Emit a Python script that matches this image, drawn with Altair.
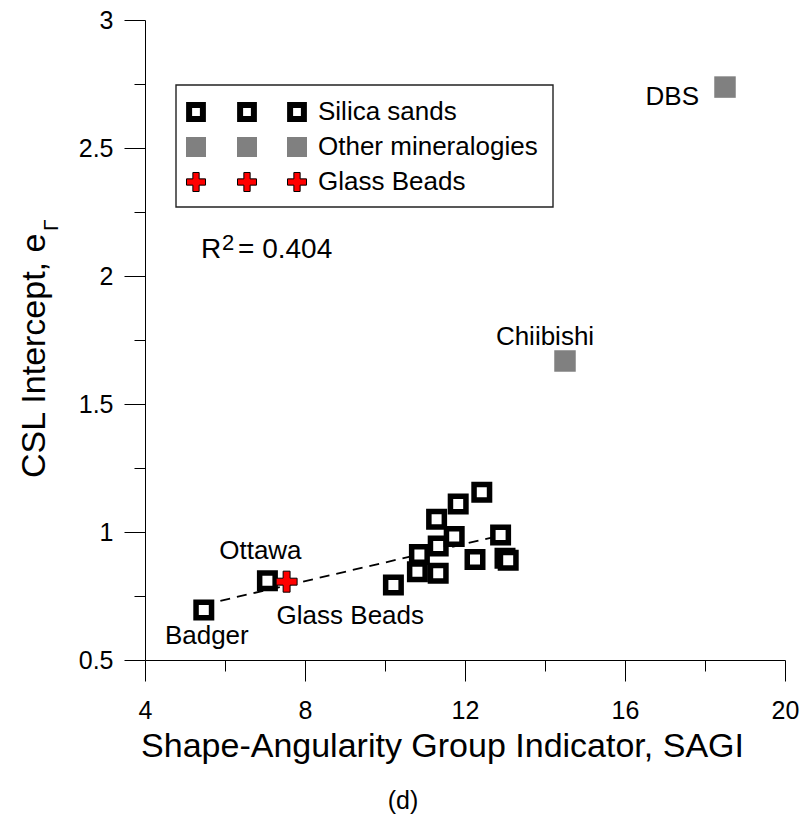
import altair as alt
import pandas as pd

FONT = "Liberation Sans"

# ---------------- data ----------------
silica_x = [5.47, 7.06, 10.21, 10.81, 10.86, 11.33, 11.33, 11.29, 11.73, 11.83, 12.42, 12.25, 12.89, 13.00, 13.08]
silica_y = [0.695, 0.81, 0.793, 0.845, 0.912, 0.839, 0.945, 1.050, 0.982, 1.109, 1.155, 0.893, 0.988, 0.897, 0.890]
other_x = [18.5, 14.5]
other_y = [2.738, 1.668]
beads_x = [7.54]
beads_y = [0.806]
fit_x = [5.47, 13.05]
fit_y = [0.716, 0.992]

x_major = [4, 8, 12, 16, 20]
x_minor = [6, 10, 14, 18]
y_major = [0.5, 1, 1.5, 2, 2.5, 3]
y_minor = [0.75, 1.25, 1.75, 2.25, 2.75]

point_labels = ["DBS", "Chiibishi", "Ottawa", "Glass Beads", "Badger"]
label_x = [18.5, 14.5, 7.06, 7.54, 5.47]
label_y = [2.738, 1.668, 0.81, 0.806, 0.695]

legend_labels = ["Silica sands", "Other mineralogies", "Glass Beads"]
r2_parts = ["R", "2", "= 0.404"]
y_title = ["CSL Intercept, e", "\u0393"]
x_title = "Shape-Angularity Group Indicator, SAGI"
panel_tag = "(d)"

# ---------------- tables ----------------
silica = pd.DataFrame({"x": silica_x, "y": silica_y})
other = pd.DataFrame({"x": other_x, "y": other_y})
beads = pd.DataFrame({"x": beads_x, "y": beads_y})
fit = pd.DataFrame({"x": fit_x, "y": fit_y})

xs = alt.Scale(domain=[4, 20], nice=False, zero=False)
ys = alt.Scale(domain=[0.5, 3], nice=False, zero=False)

CROSS = "M-1,-0.33H-0.33V-1H0.33V-0.33H1V0.33H0.33V1H-0.33V0.33H-1Z"

ax_x_major = alt.Axis(values=x_major, orient="bottom", tickSize=21, labelFontSize=25, labelPadding=17,
                      labelFont=FONT, labelColor="black", grid=False, domainColor="black", tickColor="black",
                      title=x_title, titleFont=FONT, titleFontSize=34, titleFontWeight="normal",
                      titleColor="black", titleX=297, titleY=96, titleAlign="center",
                      titleBaseline="alphabetic", labelFlush=False)
ax_x_minor = alt.Axis(values=x_minor, orient="bottom", tickSize=11, labels=False, domain=False,
                      grid=False, tickColor="black", title=None)
ax_y_major = alt.Axis(values=y_major, orient="left", tickSize=21, labelFontSize=25, labelPadding=11,
                      labelFont=FONT, labelColor="black", grid=False, domainColor="black", tickColor="black",
                      format="~g", title=None, labelFlush=False)
ax_y_minor = alt.Axis(values=y_minor, orient="left", tickSize=11, labels=False, domain=False,
                      grid=False, tickColor="black", title=None)

fit_line = alt.Chart(fit).mark_line(color="black", strokeWidth=1.8, strokeDash=[10, 7]).encode(
    x=alt.X("x:Q", scale=xs, axis=ax_x_major),
    y=alt.Y("y:Q", scale=ys, axis=ax_y_major),
)

other_pts = alt.Chart(other).mark_point(shape="square", filled=True, color="#808080", size=462,
                                        opacity=1, strokeWidth=0).encode(
    x=alt.X("x:Q", scale=xs, axis=ax_x_minor),
    y=alt.Y("y:Q", scale=ys, axis=ax_y_minor),
)

silica_pts = alt.Chart(silica).mark_point(shape="square", filled=True, fill="white", stroke="black",
                                          strokeWidth=5.5, size=240, opacity=1).encode(
    x=alt.X("x:Q", scale=xs, axis=None),
    y=alt.Y("y:Q", scale=ys, axis=None),
)

bead_pts = alt.Chart(beads).mark_point(shape=CROSS, filled=True, fill="#ff0000", stroke="black",
                                       strokeWidth=1, size=441, opacity=1).encode(
    x=alt.X("x:Q", scale=xs, axis=None),
    y=alt.Y("y:Q", scale=ys, axis=None),
)

# point labels
label_style = {
    "DBS": dict(align="right", dx=-26, dy=18),
    "Chiibishi": dict(align="center", dx=-20, dy=-16),
    "Ottawa": dict(align="center", dx=-7, dy=-22),
    "Glass Beads": dict(align="left", dx=-10, dy=42),
    "Badger": dict(align="center", dx=3, dy=34),
}
label_layers = []
for name, lx, ly in zip(point_labels, label_x, label_y):
    st = label_style[name]
    label_layers.append(
        alt.Chart(pd.DataFrame({"x": [lx], "y": [ly], "t": [name]})).mark_text(
            font=FONT, fontSize=26, color="black", baseline="alphabetic", **st
        ).encode(
            x=alt.X("x:Q", scale=xs, axis=None),
            y=alt.Y("y:Q", scale=ys, axis=None),
            text="t:N",
        )
    )

# legend (pixel positions relative to plot area)
leg_rows = [92, 127, 162]
leg_cols = [51, 102, 152]
legend_box = alt.Chart(pd.DataFrame({"a": [0]})).mark_rect(fill="white", stroke="#222", strokeWidth=1.4).encode(
    x=alt.value(31), x2=alt.value(408), y=alt.value(65), y2=alt.value(187)
)
sym_df = lambda r: pd.DataFrame({"sx": leg_cols, "sy": [leg_rows[r]] * 3})
leg_sil = alt.Chart(sym_df(0)).mark_point(shape="square", filled=True, fill="white", stroke="black",
                                          strokeWidth=6, size=190, opacity=1).encode(
    x=alt.X("sx:Q", scale=None, axis=None), y=alt.Y("sy:Q", scale=None, axis=None))
leg_oth = alt.Chart(sym_df(1)).mark_point(shape="square", filled=True, color="#808080", size=400,
                                          opacity=1, strokeWidth=0).encode(
    x=alt.X("sx:Q", scale=None, axis=None), y=alt.Y("sy:Q", scale=None, axis=None))
leg_bead = alt.Chart(sym_df(2)).mark_point(shape=CROSS, filled=True, fill="#ff0000", stroke="black",
                                           strokeWidth=1, size=361, opacity=1).encode(
    x=alt.X("sx:Q", scale=None, axis=None), y=alt.Y("sy:Q", scale=None, axis=None))
leg_text = alt.Chart(pd.DataFrame({"t": legend_labels, "sy": leg_rows})).mark_text(
    font=FONT, fontSize=26, color="black", align="left", baseline="middle").encode(
    x=alt.value(173), y=alt.Y("sy:Q", scale=None, axis=None), text="t:N")

one = pd.DataFrame({"a": [0]})
r2_R = alt.Chart(one).mark_text(text=r2_parts[0], font=FONT, fontSize=28, color="black", align="left",
                                baseline="alphabetic").encode(x=alt.value(56), y=alt.value(238))
r2_2 = alt.Chart(one).mark_text(text=r2_parts[1], font=FONT, fontSize=22, color="black", align="left",
                                baseline="alphabetic").encode(x=alt.value(77), y=alt.value(230))
r2_v = alt.Chart(one).mark_text(text=r2_parts[2], font=FONT, fontSize=28, color="black", align="left",
                                baseline="alphabetic").encode(x=alt.value(93), y=alt.value(238))

ytitle_main = alt.Chart(one).mark_text(text=y_title[0], font=FONT, fontSize=34, color="black", align="left",
                                       baseline="alphabetic", angle=270).encode(x=alt.value(-100), y=alt.value(458))
ytitle_sub = alt.Chart(one).mark_text(text=y_title[1], font=FONT, fontSize=21, color="black", align="left",
                                      baseline="alphabetic", angle=270).encode(x=alt.value(-87), y=alt.value(211))
tag = alt.Chart(one).mark_text(text=panel_tag, font=FONT, fontSize=25, color="black", align="center",
                               baseline="alphabetic").encode(x=alt.value(258), y=alt.value(789))

chart = alt.layer(
    fit_line, other_pts, silica_pts, bead_pts, *label_layers,
    legend_box, leg_sil, leg_oth, leg_bead, leg_text,
    r2_R, r2_2, r2_v, ytitle_main, ytitle_sub, tag,
).resolve_axis(x="independent", y="independent").properties(
    width=640, height=640,
    autosize=alt.AutoSizeParams(type="none"),
    padding={"left": 145, "top": 20, "right": 21, "bottom": 164},
    background="white",
).configure_view(stroke=None)

chart.save("out.html", embed_options={"renderer": "svg", "actions": False})
